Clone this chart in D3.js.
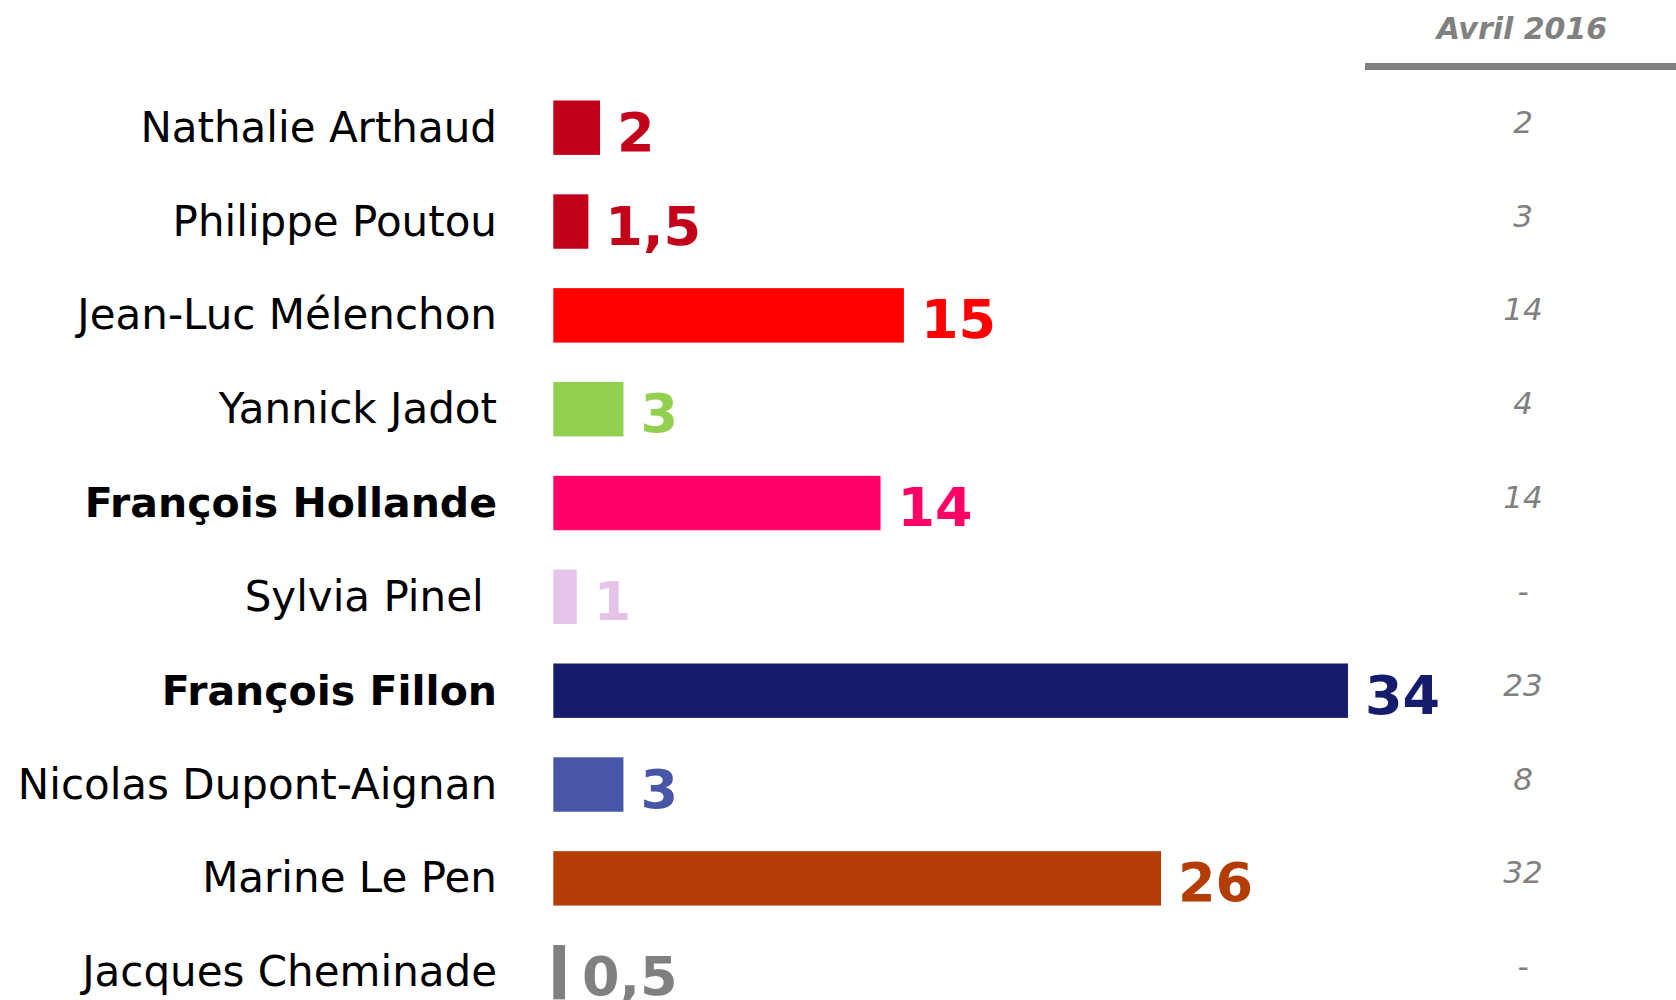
<!DOCTYPE html>
<html>
<head>
<meta charset="utf-8">
<script src="https://cdn.jsdelivr.net/npm/d3@7"></script>
<style>
  html, body { margin: 0; padding: 0; background: #fff; }
  svg { display: block; }
</style>
</head>
<body>
<svg id="chart" width="1676" height="1000"></svg>
<script>
// ---- Data ----
const candidates = [
  "Nathalie Arthaud",
  "Philippe Poutou",
  "Jean-Luc Mélenchon",
  "Yannick Jadot",
  "François Hollande",
  "Sylvia Pinel\u00A0",
  "François Fillon",
  "Nicolas Dupont-Aignan",
  "Marine Le Pen",
  "Jacques Cheminade"
];
const values = [2, 1.5, 15, 3, 14, 1, 34, 3, 26, 0.5];
const previousValues = [2, 3, 14, 4, 14, null, 23, 8, 32, null];
const previousLabel = "Avril 2016";
const highlighted = ["François Hollande", "François Fillon"];
const colors = ["#C3001A", "#C3001A", "#FF0000", "#92D050", "#FF0066",
                "#E6C3E8", "#141C6B", "#4856A8", "#B33D04", "#808080"];

// ---- Layout ----
const svg = d3.select("#chart");
const fr = d3.formatLocale({decimal: ",", thousands: "\u00A0", grouping: [3], currency: ["", " €"]});
const fmt = v => fr.format(",")(v);

const x = d3.scaleLinear().domain([0, 34]).range([553.3, 1348]);
const y = d3.scaleBand().domain(candidates).range([80.8, 1019.1])
  .paddingInner(0.42).paddingOuter(0.21);

const rows = candidates.map((c, i) => ({name: c, value: values[i], prev: previousValues[i], color: colors[i]}));

// Bars
svg.append("g").selectAll("rect").data(rows).join("rect")
  .attr("x", x(0))
  .attr("y", d => y(d.name))
  .attr("width", d => x(d.value) - x(0))
  .attr("height", y.bandwidth())
  .attr("fill", d => d.color);

// Category labels
svg.append("g").selectAll("text").data(rows).join("text")
  .attr("x", 497)
  .attr("y", d => y(d.name) + y.bandwidth() / 2 + 14)
  .attr("text-anchor", "end")
  .attr("font-family", "DejaVu Sans, Verdana, sans-serif")
  .attr("font-size", d => highlighted.includes(d.name) ? 41 : 42)
  .attr("font-weight", d => highlighted.includes(d.name) ? "bold" : "normal")
  .attr("fill", "#000")
  .style("white-space", "pre")
  .text(d => d.name);

// Value labels
svg.append("g").selectAll("text").data(rows).join("text")
  .attr("x", d => x(d.value) + 17)
  .attr("y", d => y(d.name) + y.bandwidth() / 2 + 23)
  .attr("font-family", "DejaVu Sans, Verdana, sans-serif")
  .attr("font-size", 54)
  .attr("font-weight", "bold")
  .attr("fill", d => d.color)
  .text(d => fmt(d.value));

// Previous column header
svg.append("text")
  .attr("x", 1522)
  .attr("y", 39)
  .attr("text-anchor", "middle")
  .attr("font-family", "DejaVu Sans, Verdana, sans-serif")
  .attr("font-size", 30)
  .attr("font-weight", "bold")
  .attr("font-style", "italic")
  .attr("fill", "#808080")
  .text(previousLabel);

svg.append("rect")
  .attr("x", 1365).attr("y", 63)
  .attr("width", 1676 - 1365).attr("height", 7)
  .attr("fill", "#808080");

// Previous values
svg.append("g").selectAll("text").data(rows).join("text")
  .attr("x", 1523)
  .attr("y", d => y(d.name) + y.bandwidth() / 2 + 5)
  .attr("text-anchor", "middle")
  .attr("font-family", "DejaVu Sans, Verdana, sans-serif")
  .attr("font-size", 31)
  .attr("font-style", "italic")
  .attr("fill", "#808080")
  .text(d => d.prev == null ? "-" : fmt(d.prev));
</script>
</body>
</html>
